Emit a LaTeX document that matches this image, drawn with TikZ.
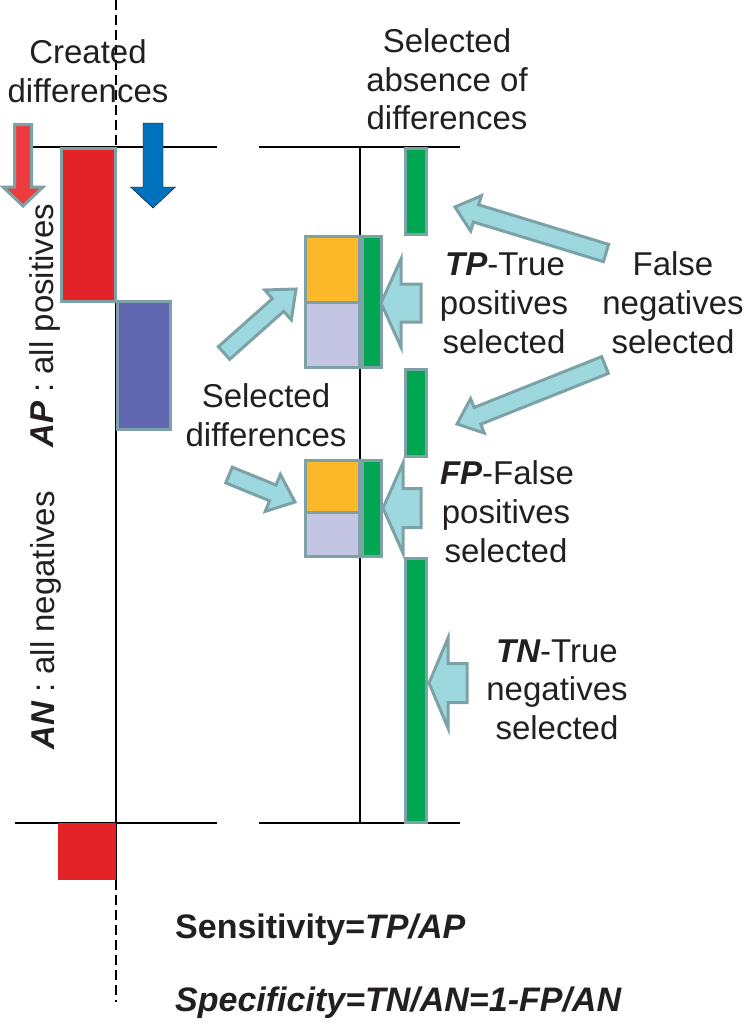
\documentclass[tikz,border=0pt]{standalone}
\usepackage{fontspec}
\setmainfont{Liberation Sans}
\usetikzlibrary{calc}
\definecolor{redf}{RGB}{228,35,40}
\definecolor{redarr}{RGB}{238,59,63}
\definecolor{bord}{RGB}{124,161,166}
\definecolor{purp}{RGB}{96,102,176}
\definecolor{orng}{RGB}{251,184,41}
\definecolor{lav}{RGB}{195,197,227}
\definecolor{grn}{RGB}{0,166,81}
\definecolor{cyanl}{RGB}{158,216,223}
\definecolor{blu}{RGB}{0,113,188}
\definecolor{txt}{RGB}{35,31,32}
% #1 style, #2 tail, #3 tip, #4 shaft half width, #5 head half width, #6 head length
\newcommand\fatarrow[6][]{%
  \coordinate (#2-neck) at ($(#3)!#6!(#2)$);
  \draw[#1] ($(#2)!#4!90:(#3)$) -- ($(#2-neck)!#4!90:(#3)$) -- ($(#2-neck)!#5!90:(#3)$)
    -- (#3) -- ($(#2-neck)!#5!-90:(#3)$) -- ($(#2-neck)!#4!-90:(#3)$) -- ($(#2)!#4!-90:(#3)$) -- cycle;
}
\begin{document}
\begin{tikzpicture}[x=1pt,y=-1pt,
  blk/.style={draw=black, line width=1.2pt},
  dsh/.style={draw=black, line width=1.2pt, dash pattern=on 10pt off 5pt},
  box/.style={draw=bord, line width=3pt},
  fat/.style={draw=bord, line width=3pt, fill=cyanl},
  lbl/.style={font=\fontsize{33}{38}\selectfont, text=txt, inner sep=0pt, anchor=base},
  formula/.style={font=\fontsize{34}{40}\selectfont\bfseries, text=txt, inner sep=0pt, anchor=base west},
  side/.style={font=\fontsize{33}{38}\selectfont, text=txt, inner sep=0pt, anchor=base west, rotate=90}]
\useasboundingbox (0,0) rectangle (745,1028);

% axis lines
\draw[blk] (33,147) -- (217,147);
\draw[blk] (259,147) -- (460,147);
\draw[blk] (15,823) -- (217,823);
\draw[blk] (259,823) -- (460,823);
\draw[blk] (360,147) -- (360,823);
\draw[blk] (116,147) -- (116,880);
\draw[dsh] (116,0) -- (116,147);
\draw[dsh] (116,880) -- (116,1002);

% left column blocks
\draw[box, fill=redf] (61,148.5) rectangle (115,301);
\draw[box, fill=purp] (117,301) rectangle (170.5,429);
\fill[redf] (58,823) rectangle (116,880);

% selected blocks
\draw[box, fill=orng] (305.5,236.5) rectangle (359.5,302);
\draw[box, fill=lav] (305.5,302) rectangle (359.5,367);
\draw[box, fill=grn] (362,236.5) rectangle (381,367);
\draw[box, fill=orng] (305.5,460) rectangle (359.5,512);
\draw[box, fill=lav] (305.5,512) rectangle (359.5,556);
\draw[box, fill=grn] (362,460) rectangle (381,556);

% green bars
\draw[box, fill=grn] (405.5,148) rectangle (426,234);
\draw[box, fill=grn] (405.5,369.5) rectangle (426,456);
\draw[box, fill=grn] (405.5,558) rectangle (426,822);

% arrow anchor points
\coordinate (ra-t) at (23,124.5);  \coordinate (ra-h) at (23,206);
\coordinate (ba-t) at (153,123);   \coordinate (ba-h) at (153,208);
\coordinate (tp-t) at (421,303);   \coordinate (tp-h) at (381,303);
\coordinate (fp-t) at (421,508);   \coordinate (fp-h) at (383,508);
\coordinate (tn-t) at (467,683);   \coordinate (tn-h) at (429,683);
\coordinate (fn1-t) at (606,253);  \coordinate (fn1-h) at (455,207);
\coordinate (fn2-t) at (605,365);  \coordinate (fn2-h) at (457,424);
\coordinate (sd1-t) at (224,353);  \coordinate (sd1-h) at (296,289);
\coordinate (sd2-t) at (229,475);  \coordinate (sd2-h) at (295,502);

\fatarrow[draw=bord, line width=3pt, fill=redarr]{ra-t}{ra-h}{8.5pt}{20pt}{19pt}
\fatarrow[fill=blu]{ba-t}{ba-h}{10pt}{22.5pt}{21pt}
\fatarrow[fat]{tp-t}{tp-h}{19pt}{44pt}{20pt}
\fatarrow[fat]{fp-t}{fp-h}{19.5pt}{45pt}{20pt}
\fatarrow[fat]{tn-t}{tn-h}{19.5pt}{45pt}{19pt}
\fatarrow[fat]{fn1-t}{fn1-h}{9pt}{18.5pt}{22pt}
\fatarrow[fat]{fn2-t}{fn2-h}{9pt}{18.5pt}{22pt}
\fatarrow[fat]{sd1-t}{sd1-h}{8.5pt}{20pt}{24pt}
\fatarrow[fat]{sd2-t}{sd2-h}{8.5pt}{20pt}{24pt}

% texts
\node[lbl] (cd1) at (88,63) {Created};
\node[lbl] (cd2) at (88,102) {differences};
\node[lbl] (sa1) at (447,52) {Selected};
\node[lbl] (sa2) at (447,91) {absence of};
\node[lbl] (sa3) at (447,129) {differences};
\node[lbl] (tpl1) at (505,275) {{\bfseries\itshape TP}-True};
\node[lbl] (tpl2) at (504,314) {positives};
\node[lbl] (tpl3) at (504,353) {selected};
\node[lbl] (fnl1) at (673,275) {False};
\node[lbl] (fnl2) at (673,314) {negatives};
\node[lbl] (fnl3) at (673,353) {selected};
\node[lbl] (sdl1) at (266,407) {Selected};
\node[lbl] (sdl2) at (266,446) {differences};
\node[lbl] (fpl1) at (507,484) {{\bfseries\itshape FP}-False};
\node[lbl] (fpl2) at (506,523) {positives};
\node[lbl] (fpl3) at (506,562) {selected};
\node[lbl] (tnl1) at (557,662) {{\bfseries\itshape TN}-True};
\node[lbl] (tnl2) at (557,700) {negatives};
\node[lbl] (tnl3) at (557,739) {selected};

\node[side] (apl) at (53,448) {{\bfseries\itshape AP} : all positives};
\node[side] (anl) at (54,750) {{\bfseries\itshape AN} : all negatives};

\node[formula] (sens) at (175,938) {Sensitivity={\itshape TP/AP}};
\node[formula] (spec) at (175,1011) {\itshape Specificity=TN/AN=1-FP/AN};
\end{tikzpicture}
\end{document}
